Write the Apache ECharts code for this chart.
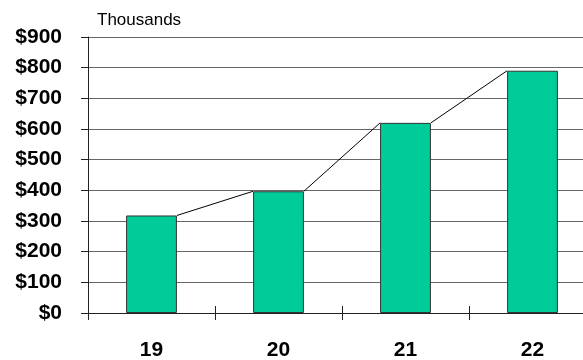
<!DOCTYPE html>
<html><head><meta charset="utf-8">
<script src="https://cdn.jsdelivr.net/npm/echarts@6/dist/echarts.min.js"></script>
<style>html,body{margin:0;padding:0;background:#fff;overflow:hidden}#c{width:583px;height:360px}</style>
</head><body><div id="c"></div>
<script>
var categories = ['19', '20', '21', '22'];
var values = [318, 397, 620, 790];
var yTicks = [0, 100, 200, 300, 400, 500, 600, 700, 800, 900];
var unitLabel = 'Thousands';

var chart = echarts.init(document.getElementById('c'), null, {renderer: 'canvas'});
var BAR_RATIO = 0.4;
var FONT = 'Liberation Sans, Arial, sans-serif';
chart.setOption({
  animation: false,
  textStyle: {fontFamily: FONT},
  title: {text: unitLabel, left: 92, top: 7, textStyle: {fontSize: 17, fontWeight: 'normal', color: '#000', fontFamily: FONT}},
  grid: {left: 88, top: 37, height: 276, width: 508, containLabel: false, outerBoundsMode: 'none'},
  xAxis: [{
    type: 'category', data: categories, position: 'bottom',
    axisLine: {lineStyle: {color: '#222', width: 1}},
    axisTick: {show: true, length: 7, lineStyle: {color: '#222'}},
    axisLabel: {margin: 27, fontSize: 21, fontWeight: 'bold', color: '#000', fontFamily: FONT}
  }, {
    type: 'category', data: categories, position: 'bottom',
    axisLine: {show: false},
    axisTick: {show: true, inside: true, length: 7, lineStyle: {color: '#222'}},
    axisLabel: {show: false}
  }],
  yAxis: {
    type: 'value', min: yTicks[0], max: yTicks[yTicks.length - 1], interval: 100,
    axisLine: {show: true, lineStyle: {color: '#222'}},
    axisTick: {show: true, length: 7, lineStyle: {color: '#222'}},
    axisLabel: {margin: 26, fontSize: 21, fontWeight: 'bold', color: '#000', fontFamily: FONT,
      formatter: function (v) { return '$' + v; }},
    splitLine: {show: true, lineStyle: {color: '#666', width: 1}}
  },
  series: [{
    type: 'bar', data: values, barWidth: (BAR_RATIO * 100) + '%',
    itemStyle: {color: '#00CC99', borderColor: '#333', borderWidth: 1}
  }, {
    type: 'custom', data: values.map(function (v, i) { return [i, v]; }),
    z: 5,
    renderItem: function (params, api) {
      var i = api.value(0);
      if (i >= values.length - 1) return null;
      var p1 = api.coord([i, values[i]]);
      var p2 = api.coord([i + 1, values[i + 1]]);
      var bw = api.size([1, 0])[0] * BAR_RATIO / 2;
      return {type: 'line', shape: {x1: p1[0] + bw, y1: p1[1], x2: p2[0] - bw, y2: p2[1]},
        style: {stroke: '#000', lineWidth: 1}};
    }
  }]
});
</script></body></html>
